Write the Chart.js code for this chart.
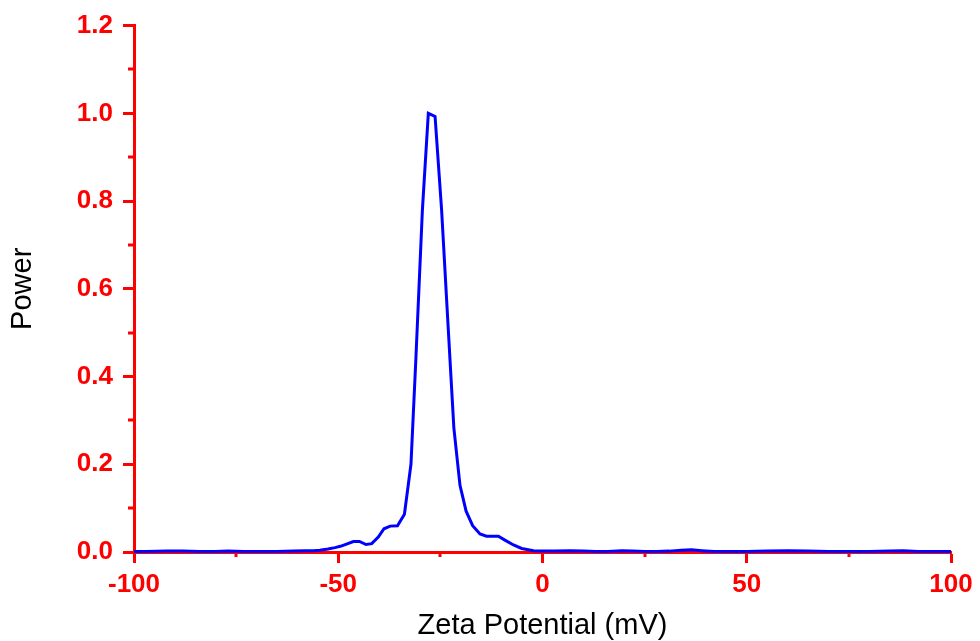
<!DOCTYPE html>
<html>
<head>
<meta charset="utf-8">
<script src="https://cdn.jsdelivr.net/npm/chart.js@4/dist/chart.umd.min.js"></script>
<style>
  html, body { margin: 0; padding: 0; background: #fff; }
  #wrap { width: 980px; height: 641px; position: relative; }
</style>
</head>
<body>
<div id="wrap"><canvas id="c"></canvas></div>
<script>
// Zeta potential (mV) and normalized power
const zeta = [
  -100, -97, -92, -88, -84, -80, -77, -73, -69, -65, -61, -58, -56, -54.5, -52.5,
  -50.8, -49.5, -48.3, -46.3, -44.8, -43.2, -41.8, -40.2, -38.8, -37.3, -35.5,
  -33.8, -32.2, -31.0, -29.4, -27.95, -26.3, -24.7, -23.2, -21.7, -20.2, -18.7,
  -17.1, -15.3, -13.7, -10.8, -9.2, -7.1, -5.1, -2.2, 0.2, 3, 6.7, 10, 13, 16,
  19.4, 22, 25, 28, 31, 34, 36.5, 39, 42, 46, 50, 55, 60, 65, 70, 75, 80, 85,
  88.3, 92, 96, 100
];
const power = [
  0.001, 0.001, 0.002, 0.002, 0.001, 0.001, 0.002, 0.001, 0.001, 0.001, 0.002, 0.003, 0.003, 0.004, 0.007,
  0.010, 0.013, 0.017, 0.024, 0.024, 0.017, 0.019, 0.034, 0.053, 0.059, 0.060,
  0.086, 0.20, 0.44, 0.78, 1.0, 0.993, 0.78, 0.53, 0.283, 0.152, 0.093,
  0.060, 0.041, 0.036, 0.036, 0.027, 0.016, 0.008, 0.003, 0.002, 0.002, 0.003, 0.002, 0.001, 0.001,
  0.003, 0.002, 0.001, 0.001, 0.002, 0.004, 0.005, 0.003, 0.001, 0.001, 0.001, 0.002, 0.003, 0.002, 0.001, 0.001, 0.001, 0.002,
  0.003, 0.001, 0.001, 0.001
];
const xMajorTicks = [-100, -50, 0, 50, 100];
const xMinorTicks = [-75, -25, 25, 75];
const yMajorTicks = [0, 0.2, 0.4, 0.6, 0.8, 1.0, 1.2];
const yMinorTicks = [0.1, 0.3, 0.5, 0.7, 0.9, 1.1];
const xTitle = 'Zeta Potential (mV)';
const yTitle = 'Power';

const points = zeta.map((x, i) => ({ x: x, y: power[i] }));
const FONT = '"Liberation Sans", Arial, Helvetica, sans-serif';
const RED = '#ff0000';

const minorTicks = {
  id: 'minorTicks',
  beforeDatasetsDraw(chart) {
    const ctx = chart.ctx;
    const xs = chart.scales.x, ys = chart.scales.y;
    const area = chart.chartArea;
    ctx.save();
    ctx.strokeStyle = RED;
    ctx.lineWidth = 3;
    ctx.beginPath();
    xMinorTicks.forEach(v => {
      const px = Math.round(xs.getPixelForValue(v));
      ctx.moveTo(px, area.bottom);
      ctx.lineTo(px, area.bottom + 5);
    });
    yMinorTicks.forEach(v => {
      const py = Math.round(ys.getPixelForValue(v));
      ctx.moveTo(area.left, py);
      ctx.lineTo(area.left - 6, py);
    });
    ctx.stroke();
    ctx.restore();
  }
};

new Chart(document.getElementById('c'), {
  type: 'line',
  data: {
    datasets: [{
      data: points,
      borderColor: '#0000ff',
      borderWidth: 3,
      pointRadius: 0,
      tension: 0,
      fill: false,
      clip: false
    }]
  },
  options: {
    responsive: true,
    maintainAspectRatio: false,
    animation: false,
    events: [],
    layout: { padding: { top: 22, right: 29, left: 0, bottom: 0 } },
    plugins: { legend: { display: false }, tooltip: { enabled: false } },
    scales: {
      x: {
        type: 'linear',
        min: -100, max: 100,
        afterFit(s) { s.height = 89; },
        afterBuildTicks(s) { s.ticks = xMajorTicks.map(v => ({ value: v })); },
        border: { display: true, color: RED, width: 3 },
        grid: { display: true, drawOnChartArea: false, drawTicks: true, tickLength: 11, tickColor: RED, tickWidth: 3 },
        ticks: {
          color: RED, padding: 6, maxRotation: 0,
          font: { family: FONT, size: 26, weight: 'bold' },
          callback: v => String(v)
        },
        title: {
          display: true, text: xTitle, color: '#000',
          font: { family: FONT, size: 29, weight: 'normal', lineHeight: 1 },
          padding: { top: 0, bottom: 1 }
        }
      },
      y: {
        type: 'linear',
        min: 0, max: 1.2,
        afterFit(s) { s.width = 134; },
        afterBuildTicks(s) { s.ticks = yMajorTicks.map(v => ({ value: v })); },
        border: { display: true, color: RED, width: 3 },
        grid: { display: true, drawOnChartArea: false, drawTicks: true, tickLength: 11, tickColor: RED, tickWidth: 3 },
        ticks: {
          color: RED, padding: 10,
          font: { family: FONT, size: 26, weight: 'bold' },
          callback: v => Number(v).toFixed(1)
        },
        title: {
          display: true, text: yTitle, color: '#000',
          font: { family: FONT, size: 29, weight: 'normal', lineHeight: 1 },
          padding: { top: 8, bottom: 0 }
        }
      }
    }
  },
  plugins: [minorTicks]
});
</script>
</body>
</html>
